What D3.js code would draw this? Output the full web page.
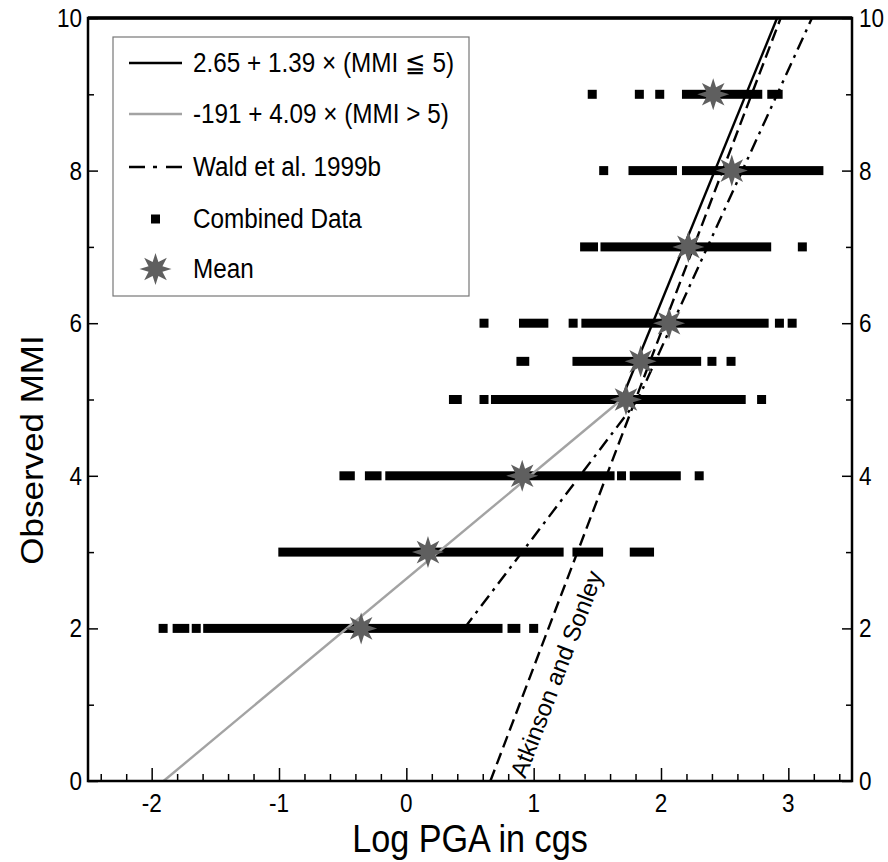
<!DOCTYPE html>
<html>
<head>
<meta charset="utf-8">
<script src="https://cdn.jsdelivr.net/npm/d3@7"></script>
<style>
  body { margin: 0; background: #fff; }
  svg { display: block; }
  text { font-family: "Liberation Sans", Arial, Helvetica, sans-serif; fill: #000; }
</style>
</head>
<body>
<svg id="chart" width="888" height="862"></svg>
<script>
//
// Data
//

// MMI level of each row of observations
var mmiLevels = [2, 3, 4, 5, 5.5, 6, 7, 8, 9]

// runs of overlapping data squares, [first, last] log PGA, one list per level
var runsMMI2 = [[-1.91, -1.91], [-1.80, -1.74], [-1.65, -1.65], [-1.56, 0.72], [0.83, 0.86], [1.0, 1.0]]
var runsMMI3 = [[-0.97, 1.20], [1.34, 1.51], [1.79, 1.91]]
var runsMMI4 = [[-0.49, -0.44], [-0.29, -0.23], [-0.13, 1.60], [1.69, 1.69], [1.79, 2.12], [2.30, 2.30]]
var runsMMI5 = [[0.37, 0.40], [0.61, 0.61], [0.70, 2.63], [2.79, 2.79]]
var runsMMI55 = [[0.90, 0.93], [1.34, 2.28], [2.40, 2.40], [2.55, 2.55]]
var runsMMI6 = [[0.61, 0.61], [0.92, 1.08], [1.31, 1.31], [1.41, 2.81], [2.93, 2.93], [3.03, 3.03]]
var runsMMI7 = [[1.40, 1.47], [1.56, 2.83], [3.11, 3.11]]
var runsMMI8 = [[1.55, 1.55], [1.78, 2.09], [2.20, 3.24]]
var runsMMI9 = [[1.46, 1.46], [1.83, 1.83], [1.99, 1.99], [2.20, 2.76], [2.87, 2.92]]
var runsByLevel = [runsMMI2, runsMMI3, runsMMI4, runsMMI5, runsMMI55, runsMMI6, runsMMI7, runsMMI8, runsMMI9]

// mean log PGA of each level
var meanPGA = [-0.355, 0.17, 0.91, 1.725, 1.84, 2.063, 2.215, 2.556, 2.41]

// fits: [intercept, slope] of MMI = a + b * logPGA, with their MMI range
var lowFitCoef = [2.65, 1.39], lowFitRange = [0, 5]
var highFitCoef = [-1.91, 4.09], highFitRange = [5, 10]
var waldLowCoef = [1.0, 2.2], waldLowRange = [2, 5]
var waldHighCoef = [-1.66, 3.66], waldHighRange = [5, 10]
// Atkinson and Sonley, [logPGA, MMI]
var atkinsonPoints = [[0.66, 0], [2.94, 10]]

// axes
var xTicks = [-2, -1, 0, 1, 2, 3]
var yTicks = [0, 2, 4, 6, 8, 10]
var legendLabels = ['2.65 + 1.39 \u00d7 (MMI \u2266 5)', '-191 + 4.09 \u00d7 (MMI > 5)', 'Wald et al. 1999b', 'Combined Data', 'Mean']

//
// Layout
//

var plotLeft = 88, plotRight = 852, plotTop = 18, plotBottom = 781
var squeeze = 0.9
var colorGray = '#a3a3a3'
var colorStar = '#5f5f5f'
var squareSize = 9
var lineWidth = 2.4

var svg = d3.select('#chart')
var x = d3.scaleLinear().domain([-2.5, 3.5]).range([plotLeft, plotRight])
var y = d3.scaleLinear().domain([0, 10]).range([plotBottom, plotTop])

function label(g, str, px, py, size, anchor, rot) {
  return g.append('text')
    .attr('transform', 'translate(' + px + ',' + py + ') scale(' + squeeze + ',1)' + (rot ? ' rotate(' + rot + ')' : ''))
    .attr('text-anchor', anchor)
    .style('font-size', size + 'px')
    .text(str)
}

function starPath(r1, r2, n) {
  var pts = []
  for (var i = 0; i < n * 2; i++) {
    var a = (Math.PI * i) / n - Math.PI / 2
    var r = i % 2 ? r2 : r1
    pts.push([r * Math.cos(a), r * Math.sin(a)])
  }
  return 'M' + pts.join('L') + 'Z'
}
var star = starPath(16, 7.5, 8)

function fitLine(coef, range) {
  return range.map(function (m) { return [(m - coef[0]) / coef[1], m] })
}

var line = d3.line().x(function (d) { return x(d[0]) }).y(function (d) { return y(d[1]) })

//
// Data squares
//

var bars = svg.append('g')
runsByLevel.forEach(function (runs, i) {
  bars.selectAll(null).data(runs).enter().append('rect')
    .attr('x', function (d) { return x(d[0]) - squareSize / 2 })
    .attr('width', function (d) { return x(d[1]) - x(d[0]) + squareSize })
    .attr('y', y(mmiLevels[i]) - squareSize / 2)
    .attr('height', squareSize)
    .attr('fill', '#000')
})

//
// Lines
//

var lines = svg.append('g').attr('fill', 'none').attr('stroke-width', lineWidth)
lines.append('path').attr('d', line(fitLine(lowFitCoef, lowFitRange))).attr('stroke', colorGray)
lines.append('path').attr('d', line(fitLine(highFitCoef, highFitRange))).attr('stroke', '#000')
lines.append('path')
  .attr('d', line(fitLine(waldLowCoef, waldLowRange).concat(fitLine(waldHighCoef, waldHighRange).slice(1))))
  .attr('stroke', '#000').attr('stroke-dasharray', '13,6,3,6')
lines.append('path').attr('d', line(atkinsonPoints)).attr('stroke', '#000').attr('stroke-dasharray', '12,6')

// label along the Atkinson and Sonley line
var p0 = [x(atkinsonPoints[0][0]), y(atkinsonPoints[0][1])]
var p1 = [x(atkinsonPoints[1][0]), y(atkinsonPoints[1][1])]
var len = Math.hypot(p1[0] - p0[0], p1[1] - p0[1])
var ux = (p1[0] - p0[0]) / len, uy = (p1[1] - p0[1]) / len
var angle = (Math.atan2(uy, ux) * 180) / Math.PI
var along = 14, across = 32
svg.append('text')
  .attr('transform', 'translate(' + (p0[0] + ux * along - uy * across) + ',' + (p0[1] + uy * along + ux * across) + ') rotate(' + angle + ')')
  .style('font-size', '24px')
  .text('Atkinson and Sonley')

//
// Means
//

svg.append('g').selectAll('path').data(meanPGA).enter().append('path')
  .attr('d', star)
  .attr('transform', function (d, i) { return 'translate(' + x(d) + ',' + y(mmiLevels[i]) + ')' })
  .attr('fill', colorStar)

//
// Axes
//

var minorX = d3.range(-24, 35, 2).map(function (v) { return v / 10 }).filter(function (v) { return xTicks.indexOf(v) < 0 })
var minorY = [1, 3, 5, 7, 9]

function axis(gen, values, size, transform) {
  var g = svg.append('g').attr('transform', transform)
    .call(gen.tickValues(values).tickSize(size).tickSizeOuter(0).tickFormat(''))
  g.select('.domain').remove()
  g.selectAll('line').attr('stroke', '#000').attr('stroke-width', 1.5)
}
axis(d3.axisBottom(x), xTicks, -13, 'translate(0,' + plotBottom + ')')
axis(d3.axisBottom(x), minorX, -7, 'translate(0,' + plotBottom + ')')
axis(d3.axisLeft(y), yTicks, -10, 'translate(' + plotLeft + ',0)')
axis(d3.axisLeft(y), minorY, -6, 'translate(' + plotLeft + ',0)')
axis(d3.axisRight(y), yTicks, -10, 'translate(' + plotRight + ',0)')
axis(d3.axisRight(y), minorY, -6, 'translate(' + plotRight + ',0)')

svg.append('rect')
  .attr('x', plotLeft).attr('y', plotTop).attr('width', plotRight - plotLeft).attr('height', plotBottom - plotTop)
  .attr('fill', 'none').attr('stroke', '#000').attr('stroke-width', 2.5)
svg.append('line').attr('x1', plotLeft).attr('x2', plotRight).attr('y1', plotTop).attr('y2', plotTop)
  .attr('stroke', '#000').attr('stroke-width', 3.5)

var labels = svg.append('g')
xTicks.forEach(function (v) { label(labels, v, x(v), 812, 25, 'middle') })
yTicks.forEach(function (v) {
  label(labels, v, plotLeft - 6, y(v) + 9, 25, 'end')
  label(labels, v, plotRight + 7, y(v) + 9, 25, 'start')
})
label(labels, 'Log PGA in cgs', (plotLeft + plotRight) / 2, 852, 38, 'middle')
label(labels, 'Observed MMI', 43, 450, 35, 'middle', -90)

//
// Legend
//

var legend = svg.append('g')
legend.append('rect').attr('x', 113).attr('y', 37).attr('width', 356).attr('height', 259)
  .attr('fill', '#fff').attr('stroke', '#777').attr('stroke-width', 1.2)
var rowY = [63, 114, 167, 219, 269]
legend.append('line').attr('x1', 129).attr('x2', 182).attr('y1', rowY[0]).attr('y2', rowY[0]).attr('stroke', '#000').attr('stroke-width', lineWidth)
legend.append('line').attr('x1', 129).attr('x2', 182).attr('y1', rowY[1]).attr('y2', rowY[1]).attr('stroke', colorGray).attr('stroke-width', lineWidth)
legend.append('line').attr('x1', 129).attr('x2', 182).attr('y1', rowY[2]).attr('y2', rowY[2]).attr('stroke', '#000').attr('stroke-width', 2.6)
  .attr('stroke-dasharray', '16,8,4,9,16,100')
legend.append('rect').attr('x', 155.5 - squareSize / 2).attr('y', rowY[3] - squareSize / 2)
  .attr('width', squareSize).attr('height', squareSize).attr('fill', '#000')
legend.append('path').attr('d', star).attr('transform', 'translate(155.5,' + rowY[4] + ')').attr('fill', colorStar)
legendLabels.forEach(function (t, i) { label(legend, t, 193, rowY[i] + 9, 27, 'start') })
</script>
</body>
</html>
